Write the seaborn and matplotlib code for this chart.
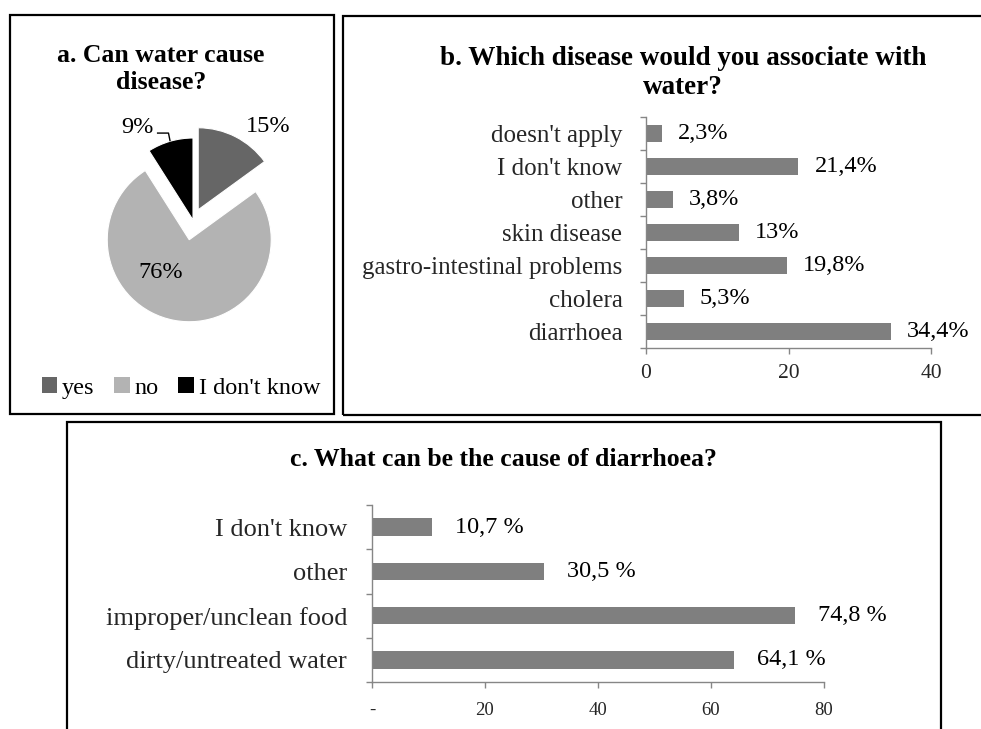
import matplotlib
matplotlib.use("Agg")
import matplotlib.pyplot as plt
from matplotlib.patches import Rectangle, Patch
import numpy as np
import pandas as pd
import seaborn as sns

# ---- data -------------------------------------------------------------
pie_labels = ["yes", "no", "I don't know"]
pie_values = [15, 76, 9]

disease_categories = ["doesn't apply", "I don't know", "other", "skin disease",
                      "gastro-intestinal problems", "cholera", "diarrhoea"]
disease_values = [2.3, 21.4, 3.8, 13, 19.8, 5.3, 34.4]
disease_xticks = [0, 20, 40]

cause_categories = ["I don't know", "other", "improper/unclean food",
                    "dirty/untreated water"]
cause_values = [10.7, 30.5, 74.8, 64.1]
cause_xticks = [0, 20, 40, 60, 80]
cause_xticklabels = ["-", "20", "40", "60", "80"]

# ---- style ------------------------------------------------------------
sns.set_style("white")
plt.rcParams["font.family"] = ["Liberation Serif", "DejaVu Serif"]
plt.rcParams["text.color"] = "black"

W, H = 981, 729
fig = plt.figure(figsize=(W / 100, H / 100), dpi=100)
fig.patch.set_facecolor("white")


def px_rect(x0, y0, x1, y1):
    """Figure-fraction rectangle from pixel corners (origin top-left)."""
    return [x0 / W, 1 - y1 / H, (x1 - x0) / W, (y1 - y0) / H]


def fmt_pct(v, sep=""):
    s = f"{v:g}".replace(".", ",")
    return f"{s}{sep}%"


AXIS_GREY = "#868686"
BAR_GREY = "#7f7f7f"

# ---- panel frames -----------------------------------------------------
for x0, y0, x1, y1 in [(10, 15, 334, 414), (343, 16, 1000, 415), (67, 422, 941, 760)]:
    fig.add_artist(Rectangle((x0 / W, 1 - y1 / H), (x1 - x0) / W, (y1 - y0) / H,
                             transform=fig.transFigure, fill=False,
                             edgecolor="black", linewidth=1.6))

# ---- a. pie -----------------------------------------------------------
R_PX = 82
cx, cy = 193, 220
half = 1.5 * R_PX
ax_a = fig.add_axes(px_rect(cx - half, cy - half, cx + half, cy + half))
pie_colors = ["#666666", "#b3b3b3", "#000000"]
wedges, _ = ax_a.pie(pie_values, colors=pie_colors, startangle=90,
                     counterclock=False, explode=(0.14, 0.245, 0.0),
                     wedgeprops=dict(edgecolor="white", linewidth=0.8))
ax_a.set_xlim(-1.5, 1.5)
ax_a.set_ylim(-1.5, 1.5)
ax_a.axis("off")

# label placement (distance, angle in degrees) around the pie centre,
# in the same order as the slices
label_polar = [(1.46, 51), (0.75, 238), (1.32, 121)]
for v, (d, ang) in zip(pie_values, label_polar):
    t = np.deg2rad(ang)
    ax_a.text(d * np.cos(t), d * np.sin(t), f"{v}%", ha="center", va="center",
              fontsize=17.5)

# leader line for the small "I don't know" slice
w = wedges[2]
mid = np.deg2rad((w.theta1 + w.theta2) / 2)
ex, ey = np.cos(mid), np.sin(mid)
ax_a.plot([-0.44, ex - 0.02, ex], [1.06, 1.06, ey], color="black", lw=1.0,
          solid_capstyle="butt")

fig.text(161 / W, 1 - 69 / H, "a. Can water cause\ndisease?", ha="center",
         va="center", fontsize=18.5, fontweight="bold", linespacing=1.22)

handles = [Patch(facecolor=c, edgecolor="none") for c in pie_colors]
fig.legend(handles, pie_labels, loc="center", bbox_to_anchor=(181 / W, 1 - 388 / H),
           ncol=3, frameon=False, fontsize=17.5, handlelength=0.65,
           handleheight=0.65, handletextpad=0.2, columnspacing=0.8,
           borderpad=0, borderaxespad=0)


# ---- helper for the horizontal bar panels -----------------------------
def bar_panel(ax, cats, vals, width, xticks, xticklabels, xmax, label_sep,
              label_pad, ytick_pad, cat_size, val_size, tick_size, xtick_pad):
    df = pd.DataFrame({"category": cats, "value": vals})
    sns.barplot(data=df, x="value", y="category", orient="h", color=BAR_GREY,
                saturation=1, width=width, ax=ax, edgecolor="none")
    ax.set_xlim(0, xmax)
    ax.set_ylim(len(cats) - 0.5, -0.5)
    ax.set_xlabel("")
    ax.set_ylabel("")
    for side in ("top", "right"):
        ax.spines[side].set_visible(False)
    for side in ("left", "bottom"):
        ax.spines[side].set_color(AXIS_GREY)
        ax.spines[side].set_linewidth(1.0)
    ax.set_xticks(xticks)
    ax.set_xticklabels(xticklabels, fontsize=tick_size)
    ax.set_yticks(np.arange(-0.5, len(cats), 1), minor=True)
    ax.tick_params(axis="y", which="major", length=0, pad=ytick_pad,
                   labelsize=cat_size)
    ax.tick_params(axis="y", which="minor", length=4.5, width=1.0,
                   color=AXIS_GREY, direction="out", left=True)
    ax.tick_params(axis="x", which="major", length=4.5, width=1.0,
                   color=AXIS_GREY, direction="out", bottom=True, pad=xtick_pad)
    ax.bar_label(ax.containers[0], labels=[fmt_pct(v, label_sep) for v in vals],
                 padding=label_pad, fontsize=val_size)
    ax.grid(False)


# ---- b. diseases associated with water ---------------------------------
ax_b = fig.add_axes(px_rect(646, 117, 931, 348))
bar_panel(ax_b, disease_categories, disease_values, 0.5, disease_xticks,
          [str(t) for t in disease_xticks], 40, "", 11.5, 17, 18, 17.5, 15.5, 7)
fig.text(683 / W, 1 - 73 / H, "b. Which disease would you associate with\nwater?",
         ha="center", va="center", fontsize=19.5, fontweight="bold", linespacing=1.2)

# ---- c. causes of diarrhoea ---------------------------------------------
ax_c = fig.add_axes(px_rect(372, 505, 824, 682))
bar_panel(ax_c, cause_categories, cause_values, 0.4, cause_xticks,
          cause_xticklabels, 80, " ", 16.5, 18, 19, 17.5, 13.5, 10)
fig.text(503 / W, 1 - 460 / H, "c. What can be the cause of diarrhoea?",
         ha="center", va="center", fontsize=18.5, fontweight="bold")

fig.savefig("out.png", dpi=100, facecolor="white")
